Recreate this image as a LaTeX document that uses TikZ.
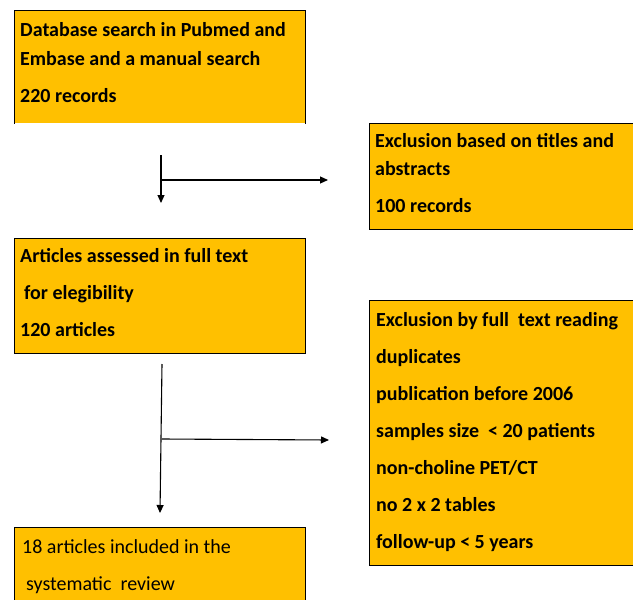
\documentclass[tikz,border=0pt]{standalone}
\usepackage{fontspec}
\setmainfont{Carlito}
\definecolor{gold}{HTML}{FFC000}
\usetikzlibrary{arrows.meta, positioning}

\begin{document}
\begin{tikzpicture}[x=1pt, y=-1pt,
  box/.style={fill=gold, draw=black, line width=0.9pt, anchor=north west, inner sep=0pt},
  txt/.style={anchor=base west, inner sep=0pt, font=\fontsize{20}{24}\selectfont\bfseries},
  plaintxt/.style={anchor=base west, inner sep=0pt, font=\fontsize{20}{24}\selectfont},
  flow/.style={line width=1.1pt, -{Triangle[length=8pt, width=7pt]}}]
  \useasboundingbox (0,0) rectangle (633,600);

  % boxes
  \node[box, draw=none, minimum width=291pt, minimum height=113pt] (search) at (14,10) {};
  \draw[line width=0.9pt] (search.south west) |- (search.north east) -- (search.south east);
  \node[box, minimum width=266pt, minimum height=106pt] (titles) at (369,123) {};
  \node[box, minimum width=291pt, minimum height=115pt] (fulltext) at (14,238) {};
  \node[box, minimum width=266pt, minimum height=265pt] (reading) at (369,300) {};
  \node[box, minimum width=291pt, minimum height=80pt] (included) at (14,527) {};

  % texts
  \node[txt] (search1) at (20,36) {Database search in Pubmed and};
  \node[txt] (search2) at (20,65) {Embase and a manual search};
  \node[txt] (search3) at (20,102) {220 records};

  \node[txt] (titles1) at (375,147) {Exclusion based on titles and};
  \node[txt] (titles2) at (375,175) {abstracts};
  \node[txt] (titles3) at (375,212) {100 records};

  \node[txt] (fulltext1) at (20,262) {Articles assessed in full text};
  \node[txt] (fulltext2) at (20,299) {\hspace{4pt}for elegibility};
  \node[txt] (fulltext3) at (20,336) {120 articles};

  \node[txt] (reading1) at (376,326) {Exclusion by full\ \ text reading};
  \node[txt] (reading2) at (376,363) {duplicates};
  \node[txt] (reading3) at (376,400) {publication before 2006};
  \node[txt] (reading4) at (376,437) {samples size\ \ < 20 patients};
  \node[txt] (reading5) at (376,474) {non-choline PET/CT};
  \node[txt] (reading6) at (376,511) {no 2 x 2 tables};
  \node[txt] (reading7) at (376,548) {follow-up < 5 years};

  \node[plaintxt] (included1) at (22,553) {18 articles included in the};
  \node[plaintxt] (included2) at (22,590) {\hspace{4pt}systematic\ \ review};

  % arrows
  \coordinate (top1) at (161,155);
  \coordinate (end1) at (161,203);
  \coordinate (split1) at (161,180);
  \coordinate (side1) at (328,180);
  \draw[flow] (top1) -- (end1);
  \draw[flow] (split1) -- (side1);

  \coordinate (top2) at (162,364);
  \coordinate (end2) at (160,513);
  \coordinate (split2) at (162,439);
  \coordinate (side2) at (329,440);
  \draw[flow] (top2) -- (end2);
  \draw[flow] (split2) -- (side2);
\end{tikzpicture}
\end{document}
